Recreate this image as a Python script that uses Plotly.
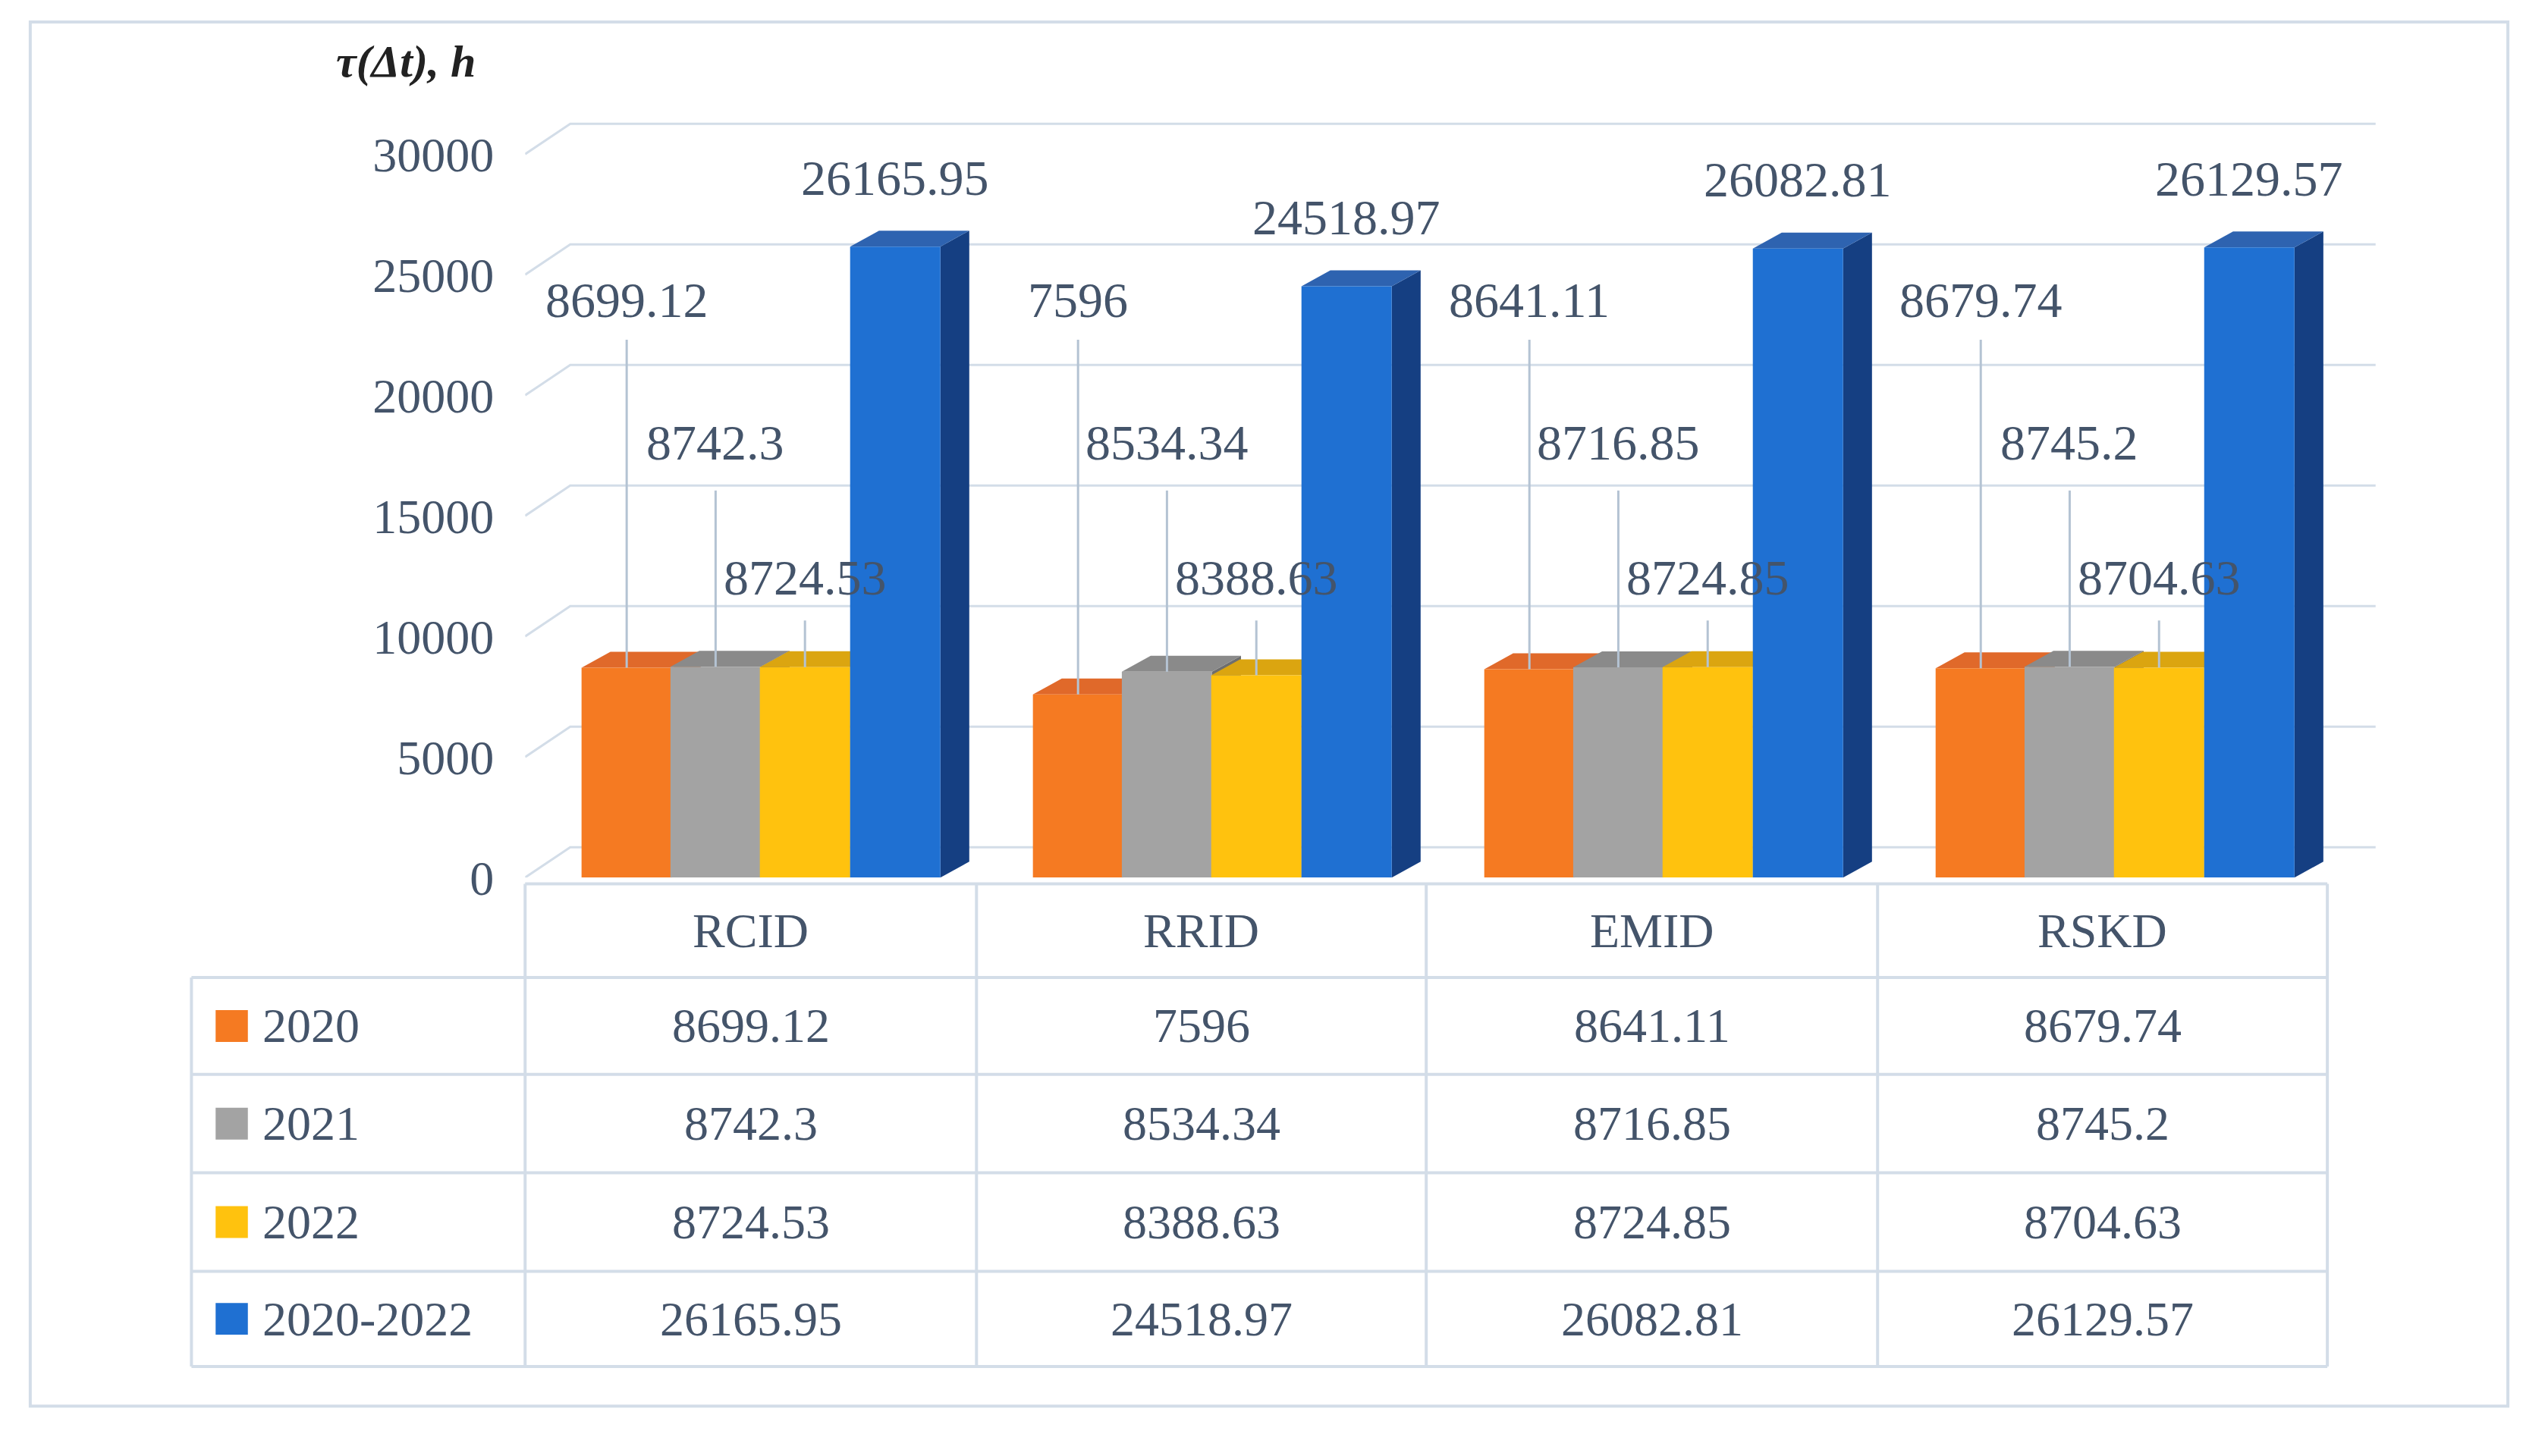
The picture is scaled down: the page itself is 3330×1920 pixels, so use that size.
import plotly.graph_objects as go

categories = ["RCID", "RRID", "EMID", "RSKD"]
series_names = ["2020", "2021", "2022", "2020-2022"]
values = {
    "2020": [8699.12, 7596, 8641.11, 8679.74],
    "2021": [8742.3, 8534.34, 8716.85, 8745.2],
    "2022": [8724.53, 8388.63, 8724.85, 8704.63],
    "2020-2022": [26165.95, 24518.97, 26082.81, 26129.57],
}
labels = {
    "2020": ["8699.12", "7596", "8641.11", "8679.74"],
    "2021": ["8742.3", "8534.34", "8716.85", "8745.2"],
    "2022": ["8724.53", "8388.63", "8724.85", "8704.63"],
    "2020-2022": ["26165.95", "24518.97", "26082.81", "26129.57"],
}
y_ticks = [0, 5000, 10000, 15000, 20000, 25000, 30000]

front = {"2020": "#f57a22", "2021": "#a3a3a3", "2022": "#ffc20e", "2020-2022": "#1f70d2"}
top = {"2020": "#e0692a", "2021": "#8a8a8a", "2022": "#dba510", "2020-2022": "#2e63b0"}
side = {"2020": "#b8531a", "2021": "#6e6e6e", "2022": "#b08408", "2020-2022": "#153f82"}
offsets = {"2020": -0.275, "2021": -0.078, "2022": 0.12, "2020-2022": 0.32}
label_y = {"2020": 23950, "2021": 18030, "2022": 12440}
line_top = {"2020": 22300, "2021": 16050, "2022": 10660}

TXT = "#44546a"
GRID = "#d3dde8"
FONT = "Liberation Serif"
W, H = 1567.0, 900.0
BW, DX, DY = 0.2, 0.064, 660


def px(x):
    return x / W


def py(y):
    return 1 - y / H


def poly(xs, ys, color):
    return go.Scatter(x=xs, y=ys, fill="toself", fillcolor=color, line=dict(width=0), mode="lines",
                      hoverinfo="skip", showlegend=False)


fig = go.Figure()

# back wall grid
for v in y_ticks:
    fig.add_trace(go.Scatter(x=[-0.5, -0.4, 3.6], y=[v, v + DY * 1.9, v + DY * 1.9], mode="lines",
                             line=dict(color=GRID, width=3), hoverinfo="skip", showlegend=False))

# bars, left to right so each front face hides the previous side face
for i in range(len(categories)):
    for s in series_names:
        x = i + offsets[s]
        v = values[s][i]
        l, r = x - BW / 2, x + BW / 2
        fig.add_trace(poly([r, r + DX, r + DX, r, r], [0, DY, v + DY, v, 0], side[s]))
        fig.add_trace(poly([l, l + DX, r + DX, r, l], [v, v + DY, v + DY, v, v], top[s]))
        fig.add_trace(poly([l, r, r, l, l], [0, 0, v, v, 0], front[s]))

for s in series_names:
    for i, t in enumerate(labels[s]):
        x = i + offsets[s]
        v = values[s][i]
        if s == "2020-2022":
            fig.add_annotation(x=x, y=v + DY + 2200, text=t, showarrow=False,
                               font=dict(family=FONT, size=66, color=TXT))
        else:
            fig.add_trace(go.Scatter(x=[x, x], y=[v, line_top[s]], mode="lines",
                                     line=dict(color="#b4c3d3", width=3), hoverinfo="skip",
                                     showlegend=False))
            fig.add_annotation(x=x, y=label_y[s], text=t, showarrow=False,
                               font=dict(family=FONT, size=66, color=TXT))

fig.update_layout(
    width=3330, height=1920, margin=dict(l=0, r=0, t=0, b=0),
    paper_bgcolor="white", plot_bgcolor="white",
    xaxis=dict(domain=[px(322), px(1470)], range=[-0.5, 3.6], visible=False),
    yaxis=dict(domain=[py(549), py(72)], range=[0, 31400], showgrid=False, zeroline=False,
               tickvals=y_ticks, tickformat="d", ticks="", ticklabelstandoff=40,
               tickfont=dict(family=FONT, size=64, color=TXT)),
    font=dict(family=FONT, color=TXT),
)


def note(x, y, text, size=64, color=TXT, xanchor="center"):
    fig.add_annotation(xref="paper", yref="paper", x=x, y=y, text=text, showarrow=False,
                       xanchor=xanchor, yanchor="middle", font=dict(family=FONT, size=size, color=color))


note(px(248), py(35), "<b><i>τ(Δt), h</i></b>", size=60, color="#222")

# outer frame
fig.add_shape(type="rect", xref="paper", yref="paper", x0=px(15), x1=px(1552), y0=py(882), y1=py(10),
              line=dict(color=GRID, width=4))

# data table
cols = [115, 322, 602, 881, 1161, 1440]
rows = [553, 612, 673, 735, 797, 857]
for i, y in enumerate(rows):
    x0 = cols[1] if i == 0 else cols[0]
    fig.add_shape(type="line", xref="paper", yref="paper", x0=px(x0), x1=px(cols[-1]), y0=py(y), y1=py(y),
                  line=dict(color=GRID, width=4))
for j, x in enumerate(cols):
    y0 = rows[1] if j == 0 else rows[0]
    fig.add_shape(type="line", xref="paper", yref="paper", x0=px(x), x1=px(x), y0=py(y0), y1=py(rows[-1]),
                  line=dict(color=GRID, width=4))
for j, c in enumerate(categories):
    note(px((cols[j + 1] + cols[j + 2]) / 2), py((rows[0] + rows[1]) / 2), c)
for i, s in enumerate(series_names):
    yc = py((rows[i + 1] + rows[i + 2]) / 2)
    fig.add_shape(type="rect", xref="paper", yref="paper", x0=px(130), x1=px(150),
                  y0=yc - 10 / H, y1=yc + 10 / H, fillcolor=front[s], line=dict(width=0))
    note(px(158), yc, s, xanchor="left")
    for j, t in enumerate(labels[s]):
        note(px((cols[j + 1] + cols[j + 2]) / 2), yc, t)

fig.write_html("out.html")
